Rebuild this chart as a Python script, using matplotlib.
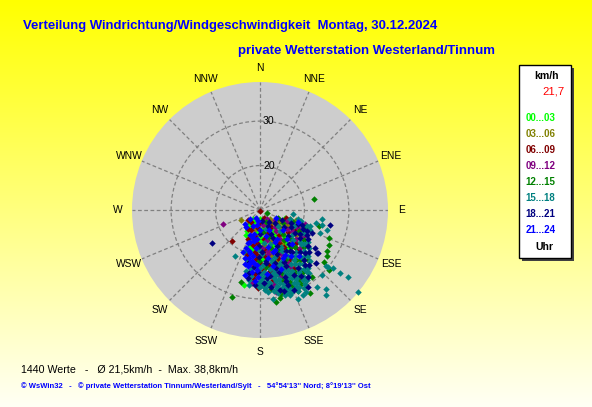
import numpy as np
import matplotlib
matplotlib.use("Agg")
import matplotlib.pyplot as plt
from matplotlib.patches import Rectangle

plt.rcParams['font.family'] = ['Liberation Sans', 'DejaVu Sans']

# ---------------- data ----------------
title = "Verteilung Windrichtung/Windgeschwindigkeit  Montag, 30.12.2024"
subtitle = "private Wetterstation Westerland/Tinnum"
compass = ["N", "NNE", "NE", "ENE", "E", "ESE", "SE", "SSE",
           "S", "SSW", "SW", "WSW", "W", "WNW", "NW", "NNW"]
ring_ticks = [20, 30]
speed_min = 10.0
speed_max = 38.8
block_labels = ["00...03", "03...06", "06...09", "09...12",
                "12...15", "15...18", "18...21", "21...24"]
block_colors = ["#00ff00", "#808000", "#800000", "#800080",
                "#008000", "#008080", "#000080", "#0000ff"]
legend_unit = "km/h"
legend_value = "21,7"
legend_footer = "Uhr"
stats_text = "1440 Werte   -   \u00d8 21,5km/h  -  Max. 38,8km/h"
credit_text = ("\u00a9 WsWin32   -   \u00a9 private Wetterstation Tinnum/Westerland/Sylt"
               "   -   54\u00b054'13'' Nord; 8\u00b019'13'' Ost")

# dense core of the cloud: speed (km/h) per ring, directions (deg) and time block per point
ring_speed = [12.0, 12.5, 13.0, 13.5, 14.0, 14.5, 15.0, 15.5, 16.0, 16.5, 17.0, 17.5,
              18.0, 18.5, 19.0, 19.5, 20.0, 20.5, 21.0, 21.5, 22.0, 22.5, 23.0, 23.5,
              24.0, 24.5, 25.0, 25.5, 26.0, 26.5, 27.0, 27.5, 28.0, 28.5, 29.0, 29.5, 30.0]
ring_dirs = [
    [155, 180, 205],
    [142, 168, 193, 218],
    [130, 155, 180, 205, 230],
    [143, 167, 193, 217],
    [123, 139, 155, 171, 187, 203, 219],
    [115, 131, 147, 163, 179, 195, 211, 227],
    [123, 139, 155, 171, 187, 203, 219],
    [115, 131, 147, 163, 179, 195, 211],
    [107, 119, 131, 143, 155, 167, 179, 191, 203],
    [113, 125, 137, 149, 161, 173, 185, 197, 209],
    [107, 119, 131, 143, 155, 167, 179, 191, 203],
    [113, 125, 137, 149, 161, 173, 185, 197],
    [110, 119, 128, 137, 146, 155, 164, 173, 182, 191, 200],
    [105.5, 114.5, 123.5, 132.5, 141.5, 150.5, 159.5, 168.5, 177.5, 186.5, 195.5],
    [110, 119, 128, 137, 146, 155, 164, 173, 182, 191, 200],
    [105.5, 114.5, 123.5, 132.5, 141.5, 150.5, 159.5, 168.5, 177.5, 186.5, 195.5],
    [110, 117.5, 125, 132.5, 140, 147.5, 155, 162.5, 170, 177.5, 185, 192.5, 200],
    [113.8, 121.2, 128.8, 136.2, 143.8, 151.2, 158.8, 166.2, 173.8, 181.2, 188.8, 196.2],
    [110, 117.5, 125, 132.5, 140, 147.5, 155, 162.5, 170, 177.5, 185, 192.5],
    [113.8, 121.2, 128.8, 136.2, 143.8, 151.2, 158.8, 166.2, 173.8, 181.2, 188.8, 196.2],
    [111.6, 117.8, 124, 130.2, 136.4, 142.6, 148.8, 155, 161.2, 167.4, 173.6, 179.8, 186, 192.2],
    [120.9, 127.1, 133.3, 139.5, 145.7, 151.9, 158.1, 164.3, 170.5, 176.7, 182.9, 189.1, 195.3],
    [124, 130.2, 136.4, 142.6, 148.8, 155, 161.2, 167.4, 173.6, 179.8, 186, 192.2],
    [127.1, 133.3, 139.5, 145.7, 151.9, 158.1, 164.3, 170.5, 176.7, 182.9, 189.1],
    [128, 133.4, 138.8, 144.2, 149.6, 155, 160.4, 165.8, 171.2, 176.6, 182, 187.4, 192.8],
    [130.7, 136.1, 141.5, 146.9, 152.3, 157.7, 163.1, 168.5, 173.9, 179.3, 184.7, 190.1],
    [133.4, 138.8, 144.2, 149.6, 155, 160.4, 165.8, 171.2, 176.6, 182, 187.4, 192.8],
    [136.1, 141.5, 146.9, 152.3, 157.7, 163.1, 168.5, 173.9, 179.3, 184.7, 190.1],
    [135.8, 140.6, 145.4, 150.2, 155, 159.8, 164.6, 169.4, 174.2, 179, 183.8, 188.6],
    [138.2, 143, 147.8, 152.6, 157.4, 162.2, 167, 171.8, 176.6, 181.4, 186.2],
    [140.6, 145.4, 150.2, 155, 159.8, 164.6, 169.4, 174.2, 179, 183.8, 188.6],
    [143, 147.8, 152.6, 157.4, 162.2, 167, 171.8, 176.6, 181.4],
    [142.1, 146.4, 150.7, 155, 159.3, 163.6, 167.9, 172.2, 176.5],
    [144.3, 148.6, 152.9, 157.2, 161.5, 165.8, 170.1, 174.4],
    [146.4, 150.7, 155, 159.3, 163.6, 167.9],
    [148.6, 152.9, 157.2, 161.5, 165.8],
    [150.7, 155, 159.3, 163.6],
]
ring_blocks = [
    [2, 0, 7],
    [3, 6, 7, 0],
    [1, 4, 2, 0, 7],
    [6, 3, 7, 2],
    [3, 1, 6, 0, 2, 7, 0],
    [4, 6, 2, 5, 7, 1, 0, 7],
    [1, 3, 7, 4, 0, 2, 7],
    [6, 5, 0, 2, 6, 7, 0],
    [2, 4, 1, 3, 6, 7, 0, 2, 7],
    [3, 6, 5, 0, 4, 2, 7, 1, 0],
    [5, 1, 7, 2, 6, 3, 0, 7, 2],
    [6, 3, 4, 7, 1, 5, 2, 7],
    [4, 6, 2, 0, 3, 7, 5, 1, 6, 2, 7],
    [1, 5, 3, 6, 4, 2, 0, 7, 3, 7, 0],
    [6, 2, 5, 7, 1, 6, 4, 2, 5, 0, 7],
    [5, 3, 6, 4, 0, 5, 7, 3, 6, 2, 7],
    [6, 4, 1, 5, 6, 2, 4, 7, 3, 5, 2, 7, 0],
    [5, 6, 3, 7, 0, 5, 6, 1, 2, 6, 7, 2],
    [4, 5, 6, 2, 4, 6, 3, 5, 7, 0, 2, 7],
    [6, 3, 5, 4, 6, 7, 2, 5, 6, 4, 7, 5],
    [5, 6, 4, 5, 2, 6, 5, 7, 1, 5, 6, 2, 7, 6],
    [6, 5, 3, 5, 7, 4, 5, 6, 2, 5, 7, 3, 7],
    [5, 4, 6, 5, 2, 6, 5, 7, 4, 5, 6, 7],
    [6, 5, 7, 5, 3, 5, 6, 5, 2, 7, 5],
    [5, 6, 5, 4, 5, 6, 7, 5, 2, 5, 6, 7, 5],
    [6, 5, 4, 5, 3, 5, 6, 5, 7, 5, 2, 6],
    [5, 6, 5, 2, 5, 4, 5, 6, 5, 7, 5, 7],
    [4, 5, 6, 5, 5, 3, 5, 6, 5, 2, 6],
    [5, 6, 5, 4, 5, 6, 5, 2, 5, 5, 7, 5],
    [6, 5, 5, 6, 5, 4, 5, 5, 6, 5, 3],
    [5, 4, 5, 5, 6, 5, 3, 5, 5, 6, 5],
    [5, 6, 5, 4, 5, 5, 6, 5, 2],
    [5, 5, 4, 5, 6, 5, 5, 4, 5],
    [6, 5, 5, 4, 5, 6, 5, 5],
    [5, 4, 5, 5, 6, 5],
    [5, 5, 6, 5, 4],
    [5, 4, 5, 5],
]

# scattered single readings around the core
out_dir = [180, 79, 249, 241.5, 231, 236, 222, 208.5, 195, 192, 198, 172, 170, 167,
           160.6, 157, 153, 142, 130, 127.5, 128.4, 140, 143.5, 149, 130, 131, 129,
           127, 117, 112, 102, 103.7, 106.7, 97, 116, 107, 104, 108, 107.4, 98, 103,
           105, 121.6, 125, 133.7, 130.4, 128.5, 180.5, 177.5, 169, 148, 211, 108.7,
           107.3, 114, 113.5, 110.7, 126.2, 124.4, 150.8, 155, 136.5, 142.2, 193.3,
           201.8, 197.3, 190.6, 118, 107]
out_spd = [10.2, 22.4, 18.9, 14.9, 13.5, 23.1, 19.4, 21.8, 26.8, 27.3, 30.7, 30.3, 31.0, 30.3,
           30.3, 31.8, 31.4, 34.2, 38.8, 34.9, 33.0, 33.2, 31.6, 31.7, 30.1, 30.5, 28.6,
           26.0, 27.3, 26.8, 26.1, 24.3, 25.7, 17.4, 11.7, 17.1, 18.7, 16.0, 21.8, 24.2, 22.9,
           23.8, 27.6, 25.1, 27.3, 29.4, 31.1, 27.4, 26.7, 28.9, 30.5, 15.1, 21.2,
           20.6, 20.7, 22.8, 24.4, 26.3, 28.3, 31.2, 30.0, 30.2, 29.0, 16.5,
           20.1, 21.4, 22.2, 14.0, 19.0]
out_blk = [2, 4, 3, 1, 2, 6, 2, 5, 4, 0, 4, 5, 4, 4,
           5, 5, 5, 5, 5, 5, 5, 5, 5, 4, 5, 4, 4,
           6, 4, 4, 6, 5, 5, 5, 4, 1, 5, 0, 5, 5, 5,
           4, 4, 6, 6, 5, 5, 5, 1, 3, 6, 2, 5,
           3, 6, 6, 5, 6, 4, 5, 5, 5, 4, 7,
           7, 7, 7, 7, 7]

# ---------------- figure ----------------
W, H, DPI = 592, 407, 100
fig = plt.figure(figsize=(W / DPI, H / DPI), dpi=DPI)

bg = fig.add_axes([0, 0, 1, 1], zorder=-1)
shade = np.linspace(0.0, 0.96, 256)[:, None]
grad = np.dstack([np.ones_like(shade), np.ones_like(shade), shade])
bg.imshow(grad, aspect='auto', extent=[0, W, H, 0], interpolation='bilinear')
bg.set_xlim(0, W)
bg.set_ylim(H, 0)
bg.axis('off')

cx, cy, R = 260, 210, 128
ax = fig.add_axes([(cx - R) / W, (H - cy - R) / H, 2 * R / W, 2 * R / H],
                  projection='polar')
ax.set_theta_zero_location('N')
ax.set_theta_direction(-1)
ax.set_ylim(speed_min, speed_max)
ax.set_facecolor('#cdcdcd')
ax.spines['polar'].set_visible(False)
ax.set_xticks(np.deg2rad(np.arange(len(compass)) * 360.0 / len(compass)))
ax.set_xticklabels([])
ax.set_yticks(ring_ticks)
ax.set_yticklabels([])
ax.grid(True, color='#808080', linewidth=0.9, linestyle=(0, (3, 2)))
ax.tick_params(length=0)

for i, lab in enumerate(compass):
    ax.text(np.deg2rad(i * 360.0 / len(compass)), speed_max + 3.1, lab,
            ha='center', va='center', fontsize=7.4, color='black')

for v in ring_ticks:
    ax.annotate(str(v), xy=(0, v), xytext=(2.2, 0), textcoords='offset points',
                ha='left', va='center', fontsize=7.6, color='black')

for b, col in enumerate(block_colors):
    th, rr = [], []
    for s, dirs, blks in zip(ring_speed, ring_dirs, ring_blocks):
        for d, k in zip(dirs, blks):
            if k == b:
                th.append(d)
                rr.append(s)
    for d, s, k in zip(out_dir, out_spd, out_blk):
        if k == b:
            th.append(d)
            rr.append(s)
    ax.plot(np.deg2rad(th), rr, ls='none', marker='D', ms=3.3, mew=0,
            color=col, clip_on=False)

# ---------------- texts ----------------
renderer = fig.canvas.get_renderer()


def fit(t, target):
    w = t.get_window_extent(renderer=renderer).width
    t.set_fontsize(t.get_fontsize() * target / w)
    return t.get_fontsize()


t = bg.text(22.7, 29.3, title, ha='left', va='baseline', fontsize=9.5,
            fontweight='bold', color='#0000ff')
fit(t, 419.6)
t = bg.text(238.5, 54.0, subtitle, ha='left', va='baseline', fontsize=9.5,
            fontweight='bold', color='#0000ff')
fit(t, 259.0)
t = bg.text(20.7, 373.0, stats_text, ha='left', va='baseline', fontsize=8,
            color='black')
fit(t, 216.0)
t = bg.text(20.7, 388.5, credit_text, ha='left', va='baseline', fontsize=5.5,
            fontweight='bold', color='#0000ff')
fit(t, 350.0)

# legend box
bg.add_patch(Rectangle((522.3, 68.0), 51.4, 193.3, facecolor='#404040',
                       edgecolor='none'))
bg.add_patch(Rectangle((519.3, 65.0), 51.4, 193.3, facecolor='white',
                       edgecolor='black', lw=1))
bg.text(546.3, 76.0, legend_unit, ha='center', va='center', fontsize=7.6,
        fontweight='bold', color='black')
bg.text(565.0, 91.5, legend_value, ha='right', va='center', fontsize=8.2,
        color='#ff0000')
ys = [117.7, 134.3, 150.0, 166.0, 182.3, 197.7, 214.3, 230.0]
for lab, col, y in zip(block_labels, block_colors, ys):
    bg.text(525.5, y, lab, ha='left', va='center', fontsize=7.0,
            fontweight='bold', color=col)
bg.text(544.0, 247.0, legend_footer, ha='center', va='center', fontsize=7.6,
        fontweight='bold', color='black')

fig.savefig("out.png", dpi=DPI)
